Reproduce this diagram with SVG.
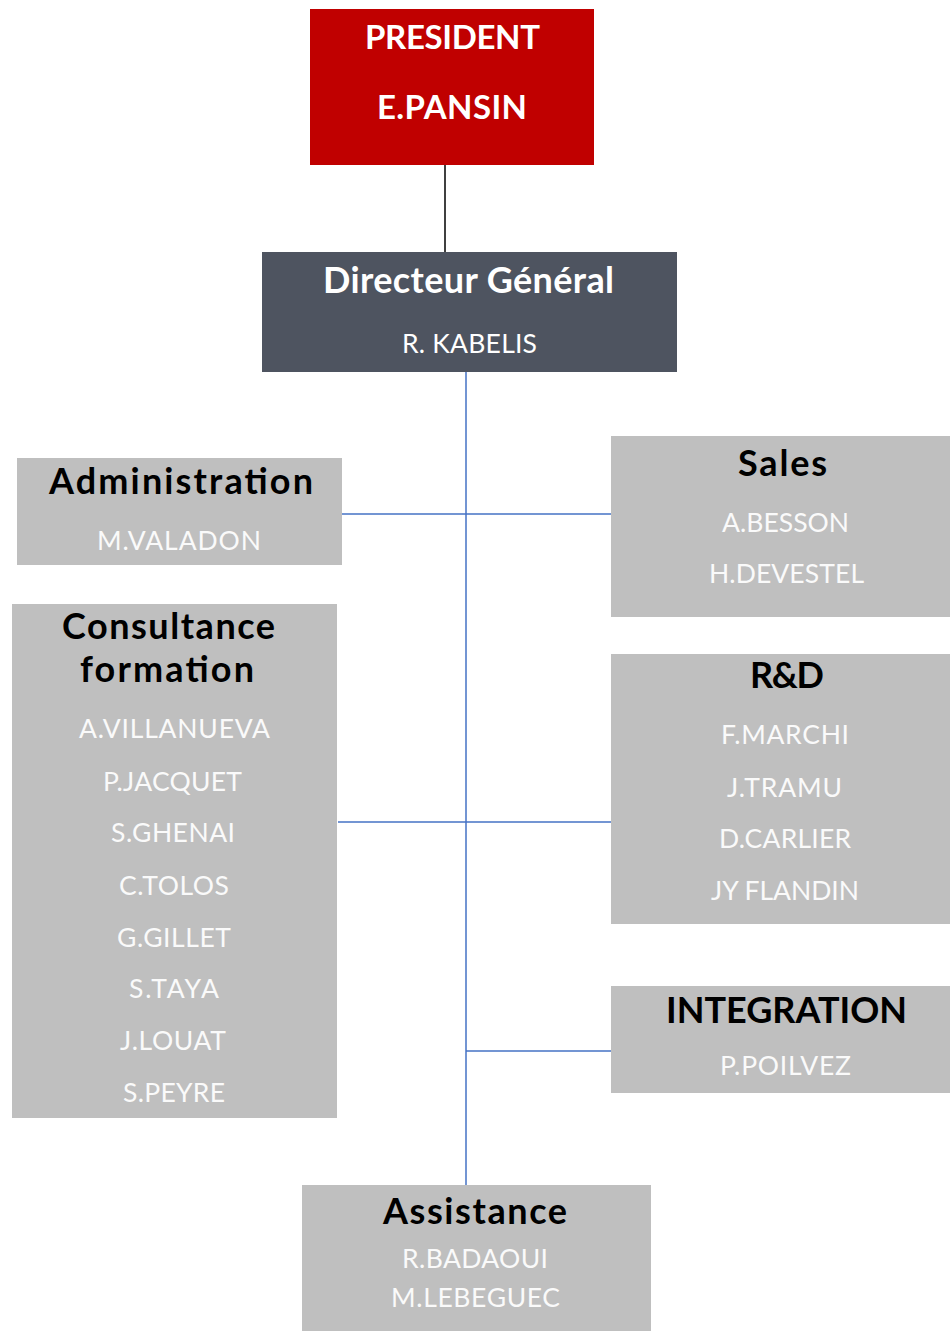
<svg xmlns="http://www.w3.org/2000/svg" width="950" height="1331" viewBox="0 0 950 1331">
<style>
.t{font-family:Lato,"Liberation Sans",sans-serif;text-anchor:middle}
.h{font-weight:bold;font-size:36px;fill:#000}
.n{font-size:26.5px;fill:#FAFAFA}
.box{fill:#BFBFBF}
.c{stroke:#4472C4;stroke-width:1.5;fill:none}
</style>
<rect width="950" height="1331" fill="#fff"/>
<g id="connectors">
<line x1="445" y1="164" x2="445" y2="252" stroke="#000" stroke-width="1.5"/>
<line class="c" x1="466" y1="372" x2="466" y2="1185"/>
<line class="c" x1="338" y1="514" x2="611" y2="514"/>
<line class="c" x1="338" y1="822" x2="611" y2="822"/>
<line class="c" x1="466" y1="1051" x2="611" y2="1051"/>
</g>
<g id="president">
<rect x="310" y="9" width="284" height="156" fill="#C00000"/>
<text class="t" x="452.5" y="49" font-size="33" font-weight="bold" fill="#fff" textLength="175" lengthAdjust="spacing">PRESIDENT</text>
<text class="t" x="452" y="119" font-size="33" font-weight="bold" fill="#fff" textLength="150" lengthAdjust="spacing">E.PANSIN</text>
</g>
<g id="dg">
<rect x="262" y="252" width="415" height="120" fill="#4E5460"/>
<text class="t" x="468.5" y="293" font-size="36" font-weight="bold" fill="#fff" textLength="291" lengthAdjust="spacing">Directeur Général</text>
<text class="t" x="469.5" y="353" font-size="26.5" fill="#fff" textLength="135" lengthAdjust="spacing">R. KABELIS</text>
</g>
<g id="administration">
<rect class="box" x="17" y="458" width="325" height="107"/>
<text class="t h" x="181" y="494" textLength="264" lengthAdjust="spacing">Administration</text>
<text class="t n" x="179" y="550" textLength="164" lengthAdjust="spacing">M.VALADON</text>
</g>
<g id="sales">
<rect class="box" x="611" y="436" width="339" height="181"/>
<text class="t h" x="782.5" y="476" textLength="89" lengthAdjust="spacing">Sales</text>
<text class="t n" x="785.5" y="532" textLength="127" lengthAdjust="spacing">A.BESSON</text>
<text class="t n" x="786.5" y="583" textLength="155" lengthAdjust="spacing">H.DEVESTEL</text>
</g>
<g id="consultance">
<rect class="box" x="12" y="604" width="325" height="514"/>
<text class="t h" x="168.5" y="639" textLength="213" lengthAdjust="spacing">Consultance</text>
<text class="t h" x="167" y="682" textLength="174" lengthAdjust="spacing">formation</text>
<text class="t n" x="174.5" y="738" textLength="191" lengthAdjust="spacing">A.VILLANUEVA</text>
<text class="t n" x="172.5" y="791" textLength="139" lengthAdjust="spacing">P.JACQUET</text>
<text class="t n" x="173" y="842" textLength="124" lengthAdjust="spacing">S.GHENAI</text>
<text class="t n" x="174" y="895" textLength="110" lengthAdjust="spacing">C.TOLOS</text>
<text class="t n" x="174" y="947" textLength="114" lengthAdjust="spacing">G.GILLET</text>
<text class="t n" x="174" y="998" textLength="90" lengthAdjust="spacing">S.TAYA</text>
<text class="t n" x="173" y="1050" textLength="106" lengthAdjust="spacing">J.LOUAT</text>
<text class="t n" x="174" y="1102" textLength="102" lengthAdjust="spacing">S.PEYRE</text>
</g>
<g id="rd">
<rect class="box" x="611" y="654" width="339" height="270"/>
<text class="t h" x="787" y="688" textLength="74" lengthAdjust="spacing">R&amp;D</text>
<text class="t n" x="785" y="744" textLength="128" lengthAdjust="spacing">F.MARCHI</text>
<text class="t n" x="784.5" y="797" textLength="115" lengthAdjust="spacing">J.TRAMU</text>
<text class="t n" x="785" y="848" textLength="132" lengthAdjust="spacing">D.CARLIER</text>
<text class="t n" x="785" y="900" textLength="148" lengthAdjust="spacing">JY FLANDIN</text>
</g>
<g id="integration">
<rect class="box" x="611" y="986" width="339" height="107"/>
<text class="t h" x="786.5" y="1023" textLength="241" lengthAdjust="spacing">INTEGRATION</text>
<text class="t n" x="785.5" y="1075" textLength="131" lengthAdjust="spacing">P.POILVEZ</text>
</g>
<g id="assistance">
<rect class="box" x="302" y="1185" width="349" height="146"/>
<text class="t h" x="475" y="1224" textLength="184" lengthAdjust="spacing">Assistance</text>
<text class="t n" x="475" y="1268" textLength="146" lengthAdjust="spacing">R.BADAOUI</text>
<text class="t n" x="475.5" y="1307" textLength="169" lengthAdjust="spacing">M.LEBEGUEC</text>
</g>
</svg>
